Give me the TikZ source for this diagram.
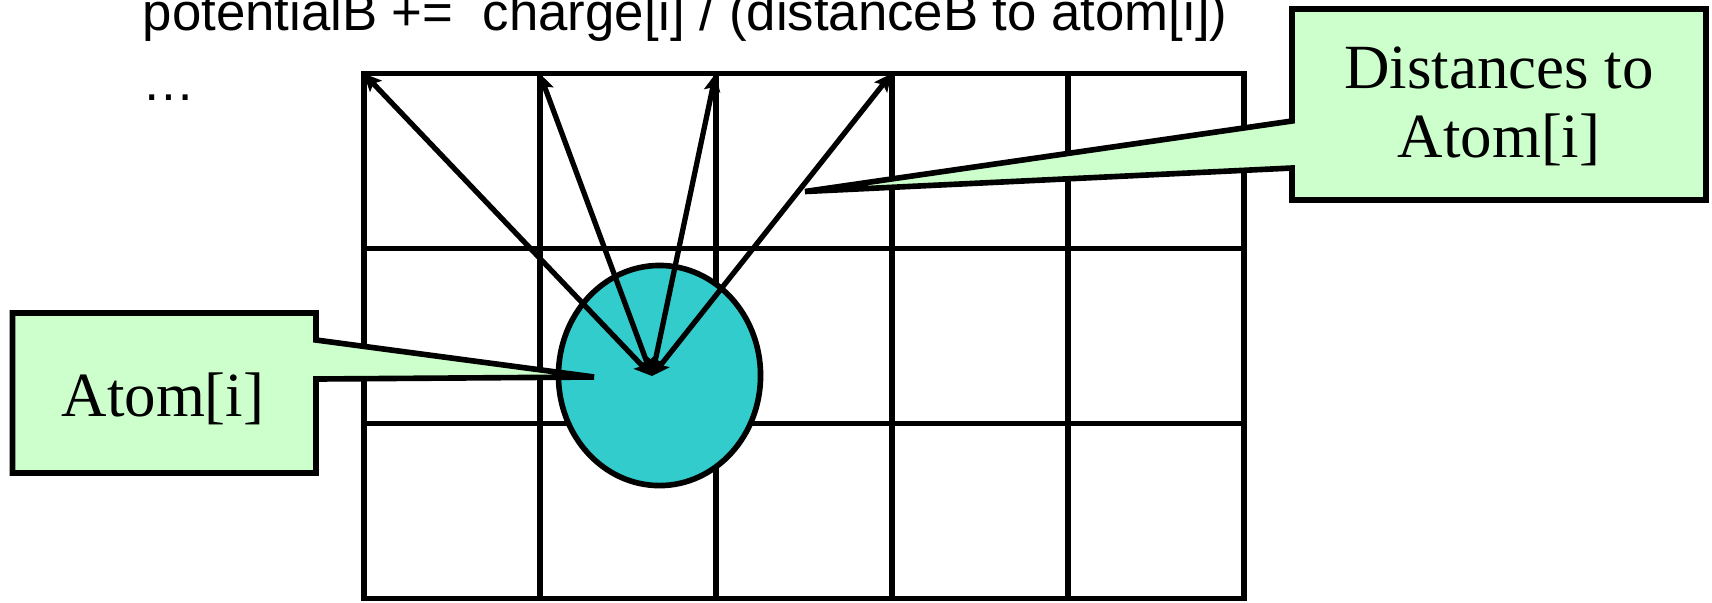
\documentclass[tikz,border=0pt]{standalone}
\usepackage{fontspec}
\setmainfont{Liberation Serif}
\newfontfamily\arialfont{Liberation Sans}
\usetikzlibrary{arrows.meta,shapes.geometric}
\definecolor{atomcyan}{RGB}{51,204,204}
\definecolor{calloutgreen}{RGB}{204,255,204}
\begin{document}
\begin{tikzpicture}[x=0.01cm,y=-0.01cm,
  gridline/.style={line width=1.6pt},
  ray/.style={line width=1.5pt,
    {Stealth[length=5pt,width=4.6pt,inset=1pt]}-{Stealth[length=5pt,width=4.6pt,inset=1pt]}},
  callout/.style={draw, line width=1.6pt, fill=calloutgreen},
  labeltext/.style={font=\fontsize{17.9}{19.6}\selectfont, anchor=base, inner sep=0pt},
  codetext/.style={font=\arialfont\fontsize{15}{17}\selectfont, anchor=base west, inner sep=0pt}]
\useasboundingbox (0,0) rectangle (1712,602);

% grid
\foreach \i in {1,...,4}
  \draw[gridline] ({363.7+176*\i},73.5) -- ({363.7+176*\i},598.5);
\foreach \j in {1,2}
  \draw[gridline] (363.7,{73.5+175*\j}) -- (1243.7,{73.5+175*\j});
\draw[gridline] (363.7,73.5) rectangle (1243.7,598.5);

% grid corners on the top row
\coordinate (c0) at (363.7,73.5);
\coordinate (c1) at (539.7,73.5);
\coordinate (c2) at (715.7,73.5);
\coordinate (c3) at (891.7,73.5);

% the atom
\node[ellipse, draw, line width=1.6pt, fill=atomcyan, minimum width=2.02cm,
      minimum height=2.2cm, inner sep=0pt] (atom) at (659.5,375.5) {};
\coordinate (src) at (652,376);

% distance rays
\draw[ray] (src) -- (c0);
\draw[ray] (src) -- (c1);
\draw[ray] (src) -- (c2);
\draw[ray] (src) -- (c3);

% callouts
\coordinate (atomtip) at (594,377);
\coordinate (disttip) at (805,191.5);
\path[callout] (12.5,313) -- (316,313) -- (316,340) -- (atomtip) -- (316,379)
  -- (316,473) -- (12.5,473) -- cycle;
\path[callout] (1292,9) -- (1706,9) -- (1706,200) -- (1292,200) -- (1292,168)
  -- (disttip) -- (1292,121) -- cycle;

\node[labeltext] (atomlabel) at (163,416.7) {Atom[i]};
\node[labeltext] (distlabel1) at (1499,88) {Distances to};
\node[labeltext] (distlabel2) at (1499,157) {Atom[i]};

% code text
\node[codetext] (code) at (142,30) {potentialB +=\ \ charge[i] / (distanceB to atom[i])};
\node[codetext] (dots) at (142,100) {…};
\end{tikzpicture}
\end{document}
